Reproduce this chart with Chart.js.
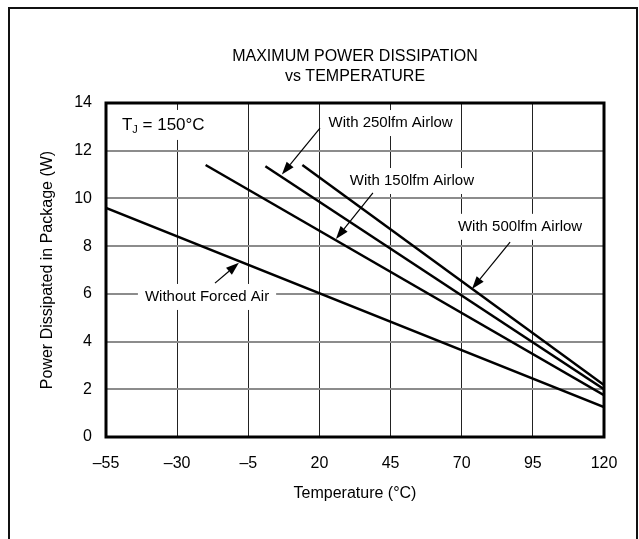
<!DOCTYPE html>
<html>
<head>
<meta charset="utf-8">
<script src="https://cdn.jsdelivr.net/npm/chart.js@4.4.0/dist/chart.umd.min.js"></script>
<style>
  html, body { margin: 0; padding: 0; background: #fff; }
  #wrap { position: relative; width: 639px; height: 539px; overflow: hidden; }
  #frame { position: absolute; left: 8px; top: 7px; width: 626px; height: 600px;
           border: 2px solid #111; border-bottom: none; pointer-events: none; }
  canvas { position: absolute; left: 0; top: 0; }
</style>
</head>
<body>
<div id="wrap">
  <canvas id="chart" width="639" height="539"></canvas>
  <div id="frame"></div>
</div>
<script>
const FONT = '"Liberation Sans", Arial, Helvetica, sans-serif';

// values (temperature in °C, power in W)
const tempTicks = [-55, -30, -5, 20, 45, 70, 95, 120];
const seriesNames = ["Without Forced Air", "With 150lfm Airlow", "With 250lfm Airlow", "With 500lfm Airlow"];
const noAirTemp = [-55, 120];
const noAirPower = [9.6, 1.25];
const lfm150Temp = [-20, 120];
const lfm150Power = [11.4, 1.75];
const lfm250Temp = [1, 120];
const lfm250Power = [11.35, 2.0];
const lfm500Temp = [14, 120];
const lfm500Power = [11.4, 2.18];

// callout anchors, in data units
const labelTemp = [-19.5, 52.5, 45, 90.5];
const labelPower = [5.87, 10.73, 13.16, 8.81];
const arrowFromTemp = [-16.7, 38.8, 20.2, 87];
const arrowFromPower = [6.45, 10.23, 12.95, 8.17];
const arrowToTemp = [-8.3, 25.8, 6.8, 73.6];
const arrowToPower = [7.3, 8.3, 11.0, 6.2];

const tjTemp = -49.4;
const tjPower = 13.08;

function toPoints(xs, ys) {
  return xs.map((x, i) => ({ x: x, y: ys[i] }));
}

function lineSet(name, xs, ys) {
  return {
    label: name,
    data: toPoints(xs, ys),
    borderColor: "#000",
    borderWidth: 2.5,
    pointRadius: 0,
    fill: false
  };
}

function dashLabel(v) {
  return v < 0 ? "\u2013" + Math.abs(v) : String(v);
}

const callouts = {
  id: "callouts",
  beforeDatasetsDraw(chart) {
    const { ctx, scales: { x, y } } = chart;
    ctx.save();
    ctx.font = "15px " + FONT;
    ctx.textAlign = "center";
    ctx.textBaseline = "middle";
    seriesNames.forEach((name, i) => {
      const px = x.getPixelForValue(labelTemp[i]);
      const py = y.getPixelForValue(labelPower[i]);
      const w = ctx.measureText(name).width;
      ctx.fillStyle = "#fff";
      ctx.fillRect(px - w / 2 - 7, py - 13, w + 14, 26);
      ctx.fillStyle = "#000";
      ctx.fillText(name, px, py);
    });

    // T_J = 150°C
    const tx = x.getPixelForValue(tjTemp);
    const ty = y.getPixelForValue(tjPower);
    ctx.fillStyle = "#fff";
    ctx.fillRect(tx - 6, ty - 15, 104, 30);
    ctx.fillStyle = "#000";
    ctx.textAlign = "left";
    ctx.font = "17px " + FONT;
    ctx.fillText("T", tx, ty);
    let cx = tx + ctx.measureText("T").width;
    ctx.font = "11px " + FONT;
    ctx.fillText("J", cx, ty + 5);
    cx += ctx.measureText("J").width;
    ctx.font = "17px " + FONT;
    ctx.fillText(" = 150\u00b0C", cx, ty);
    ctx.restore();
  },
  afterDatasetsDraw(chart) {
    const { ctx, scales: { x, y }, chartArea } = chart;
    ctx.save();
    ctx.strokeStyle = "#000";
    ctx.fillStyle = "#000";
    ctx.lineWidth = 1.2;
    seriesNames.forEach((name, i) => {
      const x0 = x.getPixelForValue(arrowFromTemp[i]);
      const y0 = y.getPixelForValue(arrowFromPower[i]);
      const x1 = x.getPixelForValue(arrowToTemp[i]);
      const y1 = y.getPixelForValue(arrowToPower[i]);
      const a = Math.atan2(y1 - y0, x1 - x0);
      const len = 13, half = 4.5;
      const bx = x1 - len * Math.cos(a), by = y1 - len * Math.sin(a);
      ctx.beginPath();
      ctx.moveTo(x0, y0);
      ctx.lineTo(bx, by);
      ctx.stroke();
      ctx.beginPath();
      ctx.moveTo(x1, y1);
      ctx.lineTo(bx + half * Math.sin(a), by - half * Math.cos(a));
      ctx.lineTo(bx - half * Math.sin(a), by + half * Math.cos(a));
      ctx.closePath();
      ctx.fill();
    });

    // plot frame
    ctx.lineWidth = 3;
    ctx.strokeRect(chartArea.left, chartArea.top, chartArea.right - chartArea.left, chartArea.bottom - chartArea.top);
    ctx.restore();
  }
};

new Chart(document.getElementById("chart"), {
  type: "line",
  data: {
    datasets: [
      lineSet(seriesNames[0], noAirTemp, noAirPower),
      lineSet(seriesNames[1], lfm150Temp, lfm150Power),
      lineSet(seriesNames[2], lfm250Temp, lfm250Power),
      lineSet(seriesNames[3], lfm500Temp, lfm500Power)
    ]
  },
  options: {
    responsive: false,
    animation: false,
    layout: { padding: { left: 20, right: 35, top: 47, bottom: 0 } },
    plugins: {
      legend: { display: false },
      tooltip: { enabled: false },
      title: {
        display: true,
        fullSize: false,
        text: ["MAXIMUM POWER DISSIPATION", "vs TEMPERATURE"],
        color: "#000",
        font: { family: FONT, size: 16, weight: "normal", lineHeight: 1.25 },
        padding: { top: 0, bottom: 16 }
      }
    },
    scales: {
      x: {
        type: "linear",
        min: tempTicks[0],
        max: tempTicks[tempTicks.length - 1],
        afterBuildTicks: (scale) => { scale.ticks = tempTicks.map(v => ({ value: v })); },
        afterFit: (scale) => { scale.height = 102; },
        border: { display: false },
        grid: { color: "#222", lineWidth: 1, drawTicks: false },
        ticks: {
          color: "#000",
          font: { family: FONT, size: 16 },
          padding: 17,
          maxRotation: 0,
          callback: (v) => dashLabel(v)
        },
        title: {
          display: true,
          text: "Temperature (\u00b0C)",
          color: "#000",
          font: { family: FONT, size: 16 },
          padding: { top: 0, bottom: 36 }
        }
      },
      y: {
        min: 0,
        max: 14,
        afterFit: (scale) => { scale.width = 86; },
        border: { display: false },
        grid: { color: "#8c8c8c", lineWidth: 2, drawTicks: false },
        ticks: {
          color: "#000",
          stepSize: 2,
          font: { family: FONT, size: 16 },
          padding: 14
        },
        title: {
          display: true,
          text: "Power Dissipated in Package (W)",
          color: "#000",
          font: { family: FONT, size: 16 },
          padding: { top: 18, bottom: 0 }
        }
      }
    }
  },
  plugins: [callouts]
});
</script>
</body>
</html>
